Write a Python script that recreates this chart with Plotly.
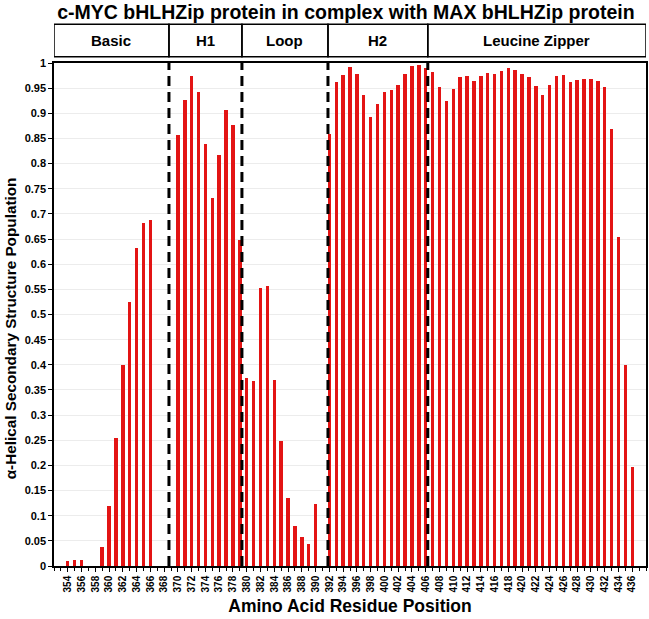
import plotly.graph_objects as go

title_text = 'c-MYC bHLHZip protein in complex with MAX bHLHZip protein'

# residue positions 354..436
residues = list(range(354, 437))

helix_pop = [
    0.010, 0.012, 0.012, 0.0, 0.0, 0.038, 0.119, 0.254, 0.399, 0.524,   # 354-363
    0.633, 0.682, 0.687, 0.0, 0.0, 0.0, 0.856, 0.926, 0.974, 0.942,      # 364-373
    0.838, 0.732, 0.818, 0.907, 0.876, 0.648, 0.373, 0.368, 0.552, 0.556,  # 374-383
    0.370, 0.248, 0.135, 0.079, 0.057, 0.043, 0.123, 0.0, 0.858, 0.962,  # 384-393
    0.977, 0.992, 0.978, 0.936, 0.893, 0.919, 0.943, 0.946, 0.956, 0.978,  # 394-403
    0.994, 0.997, 0.990, 0.983, 0.952, 0.924, 0.949, 0.972, 0.974, 0.964,  # 404-413
    0.974, 0.980, 0.979, 0.985, 0.990, 0.986, 0.978, 0.973, 0.954, 0.937,  # 414-423
    0.956, 0.974, 0.977, 0.962, 0.967, 0.968, 0.968, 0.965, 0.952, 0.869,  # 424-433
    0.654, 0.400, 0.196,                                                  # 434-436
]

region_names = ['Basic', 'H1', 'Loop', 'H2', 'Leucine Zipper']
region_bounds = [352, 368.7, 379.3, 391.8, 406.3, 438]

x_ticks = list(range(354, 437, 2))

FONT = 'Arial, Liberation Sans, sans-serif'

fig = go.Figure()
fig.add_trace(go.Bar(x=residues, y=helix_pop, width=0.5,
                     marker=dict(color='#e31414', line=dict(width=0)),
                     showlegend=False))

shapes = []
annotations = []
# dashed boundaries inside the plot
for b in region_bounds[1:-1]:
    shapes.append(dict(type='line', xref='x', yref='paper', x0=b, x1=b, y0=0, y1=1,
                       line=dict(color='black', width=3, dash='10px,6px')))

# header boxes above the plot
hy0, hy1 = 1.0125, 1.077
for i, name in enumerate(region_names):
    x0, x1 = region_bounds[i], region_bounds[i + 1]
    shapes.append(dict(type='rect', xref='x', yref='paper', x0=x0, x1=x1, y0=hy0, y1=hy1,
                       line=dict(color='black', width=1.5), fillcolor='rgba(0,0,0,0)'))
    annotations.append(dict(x=(x0 + x1) / 2, y=(hy0 + hy1) / 2, xref='x', yref='paper',
                            xanchor='center', yanchor='middle',
                            text='<b>' + name + '</b>', showarrow=False,
                            font=dict(family=FONT, size=15, color='black')))

# y axis title, sitting a little below the middle like the original
annotations.append(dict(x=-0.073, y=0.472, xref='paper', yref='paper', textangle=-90,
                        text='<b>α-Helical Secondary Structure Population</b>', showarrow=False,
                        xanchor='center', yanchor='middle',
                        font=dict(family=FONT, size=15.3, color='black')))

fig.update_layout(
    width=649, height=619,
    margin=dict(l=54, r=3, t=63, b=53, autoexpand=False),
    paper_bgcolor='white', plot_bgcolor='white',
    bargap=0,
    title=dict(text='<b>' + title_text + '</b>', x=0.533, xanchor='center', y=0.992, yanchor='top',
               font=dict(family=FONT, size=19.5, color='black')),
    shapes=shapes,
    annotations=annotations,
    font=dict(family=FONT, color='black'),
)

fig.update_xaxes(range=[352, 438], tickvals=x_ticks, ticktext=['<b>%d</b>' % t for t in x_ticks],
                 tickangle=-90, tickfont=dict(family=FONT, size=10, color='black'),
                 ticks='outside', ticklen=4, tickcolor='black',
                 minor=dict(dtick=1, ticks='outside', ticklen=3, tickcolor='black'),
                 showgrid=False, showline=True, linecolor='black', linewidth=1.5, mirror=True,
                 automargin=False,
                 title=dict(text='<b>Amino Acid Residue Position</b>', standoff=8,
                            font=dict(family=FONT, size=17.5, color='black')))

fig.update_yaxes(range=[0, 1], dtick=0.05,
                 tickfont=dict(family=FONT, size=11, color='black'),
                 ticks='outside', ticklen=4, tickcolor='black',
                 showgrid=True, gridcolor='#ececec', gridwidth=1,
                 showline=True, linecolor='black', linewidth=1.5, mirror=True, zeroline=False,
                 automargin=False,
                 tickprefix='<b>', ticksuffix='</b>')

# the page body has a default 8px margin; drop it so the figure fills the window
fig.write_html('out.html', config={'displayModeBar': False},
               post_script="document.body.style.margin='0';")
